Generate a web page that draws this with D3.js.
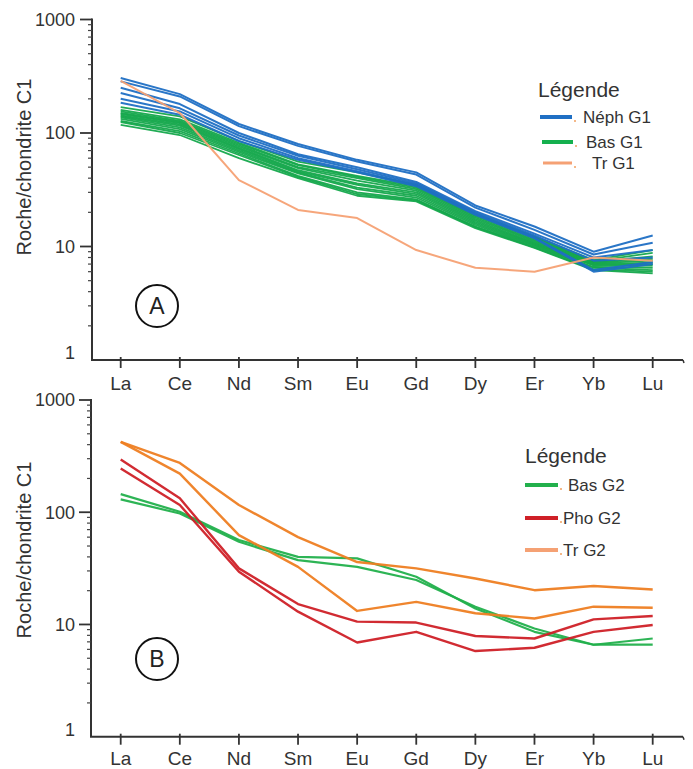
<!DOCTYPE html>
<html>
<head>
<meta charset="utf-8">
<script src="https://cdn.jsdelivr.net/npm/d3@7"></script>
<style>
  body { margin: 0; background: #fff; }
  svg { font-family: "Liberation Sans", Arial, sans-serif; }
</style>
</head>
<body>
<div id="container"></div>
<script>
// éléments (terres rares) sur l'axe x
const elements = ['La', 'Ce', 'Nd', 'Sm', 'Eu', 'Gd', 'Dy', 'Er', 'Yb', 'Lu']
const yTicks = [1, 10, 100, 1000]

// groupe 1
const nephG1 = [
  [305, 220, 120, 80, 58, 45, 23, 15, 9, 12.5],
  [285, 210, 115, 77, 56, 43, 22, 14, 8.5, 10.8],
  [250, 180, 100, 65, 50, 37, 20.5, 13, 8, 9.3],
  [225, 165, 95, 63, 48, 36, 20, 12.5, 7.5, 8],
  [200, 155, 90, 60, 46, 35, 19.5, 12, 6.2, 7.3],
  [185, 145, 85, 58, 45, 34, 19, 11.8, 6, 7]
]
const basG1 = [
  [169, 140, 85, 56, 45, 35, 19.5, 12.2, 7.6, 9.3],
  [160, 132, 82, 53, 42, 34, 19, 12, 7.4, 8.8],
  [155, 128, 80, 52, 41, 33, 18.5, 11.7, 7.3, 8.2],
  [150, 125, 78, 50, 40, 32, 18, 11.4, 7.2, 7.8],
  [147, 122, 76, 49, 38, 31, 17.5, 11.1, 7.1, 7.5],
  [143, 119, 74, 47, 36, 30, 17, 10.8, 7, 7.2],
  [140, 116, 72, 46, 35, 29, 16.5, 10.6, 6.9, 7],
  [137, 112, 70, 45, 33, 28, 16, 10.4, 6.8, 6.8],
  [133, 108, 68, 44, 32, 27, 15.5, 10.2, 6.6, 6.5],
  [128, 104, 66, 42, 30, 26, 15, 10, 6.5, 6.2],
  [125, 100, 64, 41, 29, 25.5, 14.8, 9.8, 6.3, 6],
  [118, 96, 60, 40, 28, 25, 14.5, 9.7, 6.2, 5.8]
]
const trG1 = [
  [288, 150, 38.5, 21, 17.8, 9.3, 6.5, 6, 8, 7.5]
]

// groupe 2
const basG2 = [
  [145, 101, 56.5, 40, 38.8, 26.6, 13.9, 8.6, 6.6, 7.5],
  [130, 97.5, 54.5, 37.4, 32.6, 24.9, 14.4, 9.2, 6.6, 6.6]
]
const phoG2 = [
  [295, 133, 31.6, 15.2, 10.6, 10.4, 7.9, 7.5, 11.1, 11.9],
  [245, 116, 29.5, 13, 6.9, 8.6, 5.8, 6.2, 8.6, 9.9]
]
const trG2 = [
  [424, 275, 116, 60, 36, 31.6, 25.7, 20.2, 22, 20.5],
  [424, 221, 62.5, 32.6, 13.2, 15.9, 12.6, 11.3, 14.4, 14.1]
]

const svg = d3.select('#container').append('svg')
  .attr('width', 693)
  .attr('height', 769)

const x = d3.scalePoint()
  .domain(elements)
  .range([120.7, 652.7])

/**
 * dessine un panneau (axes + courbes + légende)
 */
function drawPanel(p) {
  const y = d3.scaleLog()
    .domain([1, 1000])
    .range([p.bottom, p.top])
  const g = svg.append('g')

  // courbes
  const line = d3.line()
    .x((d, i) => x(elements[i]))
    .y(d => y(d))
  p.series.forEach(s => {
    s.data.forEach(row => {
      g.append('path')
        .attr('d', line(row))
        .attr('fill', 'none')
        .attr('stroke', s.color)
        .attr('stroke-width', s.width)
        .attr('stroke-linejoin', 'round')
        .attr('opacity', 0.95)
    })
  })

  // axe y
  g.append('line')
    .attr('x1', p.axisX).attr('x2', p.axisX)
    .attr('y1', y(1000) - 1).attr('y2', p.bottom)
    .attr('stroke', '#333').attr('stroke-width', 2)
  // petites graduations
  for (let dec = 1; dec < 1000; dec *= 10) {
    for (let k = 2; k <= 9; k++) {
      g.append('line')
        .attr('x1', p.axisX - 4).attr('x2', p.axisX)
        .attr('y1', y(dec * k)).attr('y2', y(dec * k))
        .attr('stroke', '#444').attr('stroke-width', 1.2)
    }
  }
  yTicks.forEach(t => {
    if (t > 1) {
      g.append('line')
        .attr('x1', p.axisX - 12).attr('x2', p.axisX)
        .attr('y1', y(t)).attr('y2', y(t))
        .attr('stroke', '#333').attr('stroke-width', 1.8)
    }
    g.append('text')
      .attr('x', 75)
      .attr('y', y(t) + (t === 1 ? -7 : 0))
      .attr('dy', '0.35em')
      .attr('text-anchor', 'end')
      .attr('font-size', 18)
      .attr('fill', '#333')
      .text(t)
  })
  g.append('text')
    .attr('transform', `translate(31,${p.titleY}) rotate(-90)`)
    .attr('text-anchor', 'middle')
    .attr('font-size', 20)
    .attr('fill', '#333')
    .text('Roche/chondrite C1')

  // axe x
  g.append('line')
    .attr('x1', p.axisX - 1).attr('x2', 683)
    .attr('y1', p.bottom).attr('y2', p.bottom)
    .attr('stroke', '#333').attr('stroke-width', 2)
  g.append('line')
    .attr('x1', 683).attr('x2', 684)
    .attr('y1', p.bottom).attr('y2', p.bottom + 3)
    .attr('stroke', '#333').attr('stroke-width', 1.5)
  elements.forEach(e => {
    g.append('line')
      .attr('x1', x(e)).attr('x2', x(e))
      .attr('y1', p.bottom - 3).attr('y2', p.bottom + 8)
      .attr('stroke', '#333').attr('stroke-width', 1.8)
    g.append('text')
      .attr('x', x(e))
      .attr('y', p.bottom + p.labelDy)
      .attr('text-anchor', 'middle')
      .attr('font-size', 19)
      .attr('fill', '#333')
      .text(e)
  })

  // cercle A / B
  g.append('circle')
    .attr('cx', 157).attr('cy', p.circleY).attr('r', 21)
    .attr('fill', 'none').attr('stroke', '#111').attr('stroke-width', 2)
  g.append('text')
    .attr('x', 157).attr('y', p.circleY)
    .attr('dy', '0.36em')
    .attr('text-anchor', 'middle')
    .attr('font-size', 23)
    .attr('fill', '#222')
    .text(p.letter)

  // légende
  const leg = p.legend
  g.append('text')
    .attr('x', leg.x).attr('y', leg.titleY)
    .attr('font-size', 21)
    .attr('fill', '#333')
    .text('Légende')
  leg.items.forEach(it => {
    g.append('line')
      .attr('x1', it.x1).attr('x2', it.x2)
      .attr('y1', it.y).attr('y2', it.y)
      .attr('stroke', it.color).attr('stroke-width', it.w)
    g.append('circle')
      .attr('cx', it.x2 + 3).attr('cy', it.y + 4).attr('r', 1)
      .attr('fill', '#f0a060')
    g.append('text')
      .attr('x', it.tx).attr('y', it.y + 6)
      .attr('font-size', 17)
      .attr('fill', '#333')
      .text(it.label)
  })
}

drawPanel({
  top: 19.5, bottom: 360, axisX: 92, labelDy: 30, circleY: 306, letter: 'A', titleY: 167,
  series: [
    { data: basG1, color: '#15a84c', width: 1.8 },
    { data: nephG1, color: '#1f6fc4', width: 2 },
    { data: trG1, color: '#f5a174', width: 2 }
  ],
  legend: {
    x: 538, titleY: 97,
    items: [
      { label: 'Néph G1', color: '#1f6fc4', w: 4, x1: 540, x2: 572, y: 117, tx: 583 },
      { label: 'Bas G1', color: '#15b04e', w: 4, x1: 542, x2: 573, y: 142, tx: 586 },
      { label: 'Tr G1', color: '#f5a174', w: 3, x1: 543, x2: 572, y: 163, tx: 592 }
    ]
  }
})

drawPanel({
  top: 400, bottom: 736.7, axisX: 91, labelDy: 28, circleY: 659, letter: 'B', titleY: 550,
  series: [
    { data: basG2, color: '#22b04c', width: 2.2 },
    { data: phoG2, color: '#cf2027', width: 2.4 },
    { data: trG2, color: '#ee7e22', width: 2.4 }
  ],
  legend: {
    x: 525, titleY: 463,
    items: [
      { label: 'Bas G2', color: '#22b04c', w: 4, x1: 525, x2: 558, y: 485, tx: 568 },
      { label: 'Pho G2', color: '#cf2027', w: 4, x1: 525, x2: 558, y: 518, tx: 563 },
      { label: 'Tr G2', color: '#f5a174', w: 4, x1: 525, x2: 558, y: 550, tx: 563 }
    ]
  }
})
</script>
</body>
</html>
